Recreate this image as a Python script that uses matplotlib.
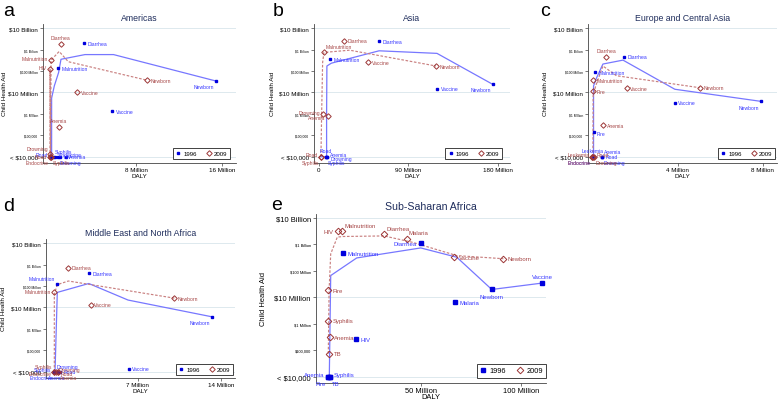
import matplotlib
matplotlib.use('Agg')
import matplotlib.pyplot as plt
from matplotlib.lines import Line2D
import numpy as np

plt.rcParams['font.family'] = ['Liberation Sans', 'DejaVu Sans']

# ---------------- DATA (DALY in millions, aid in US$) ----------------
# a: Americas
AM_CAUSE_96 = ['Diarrhea', 'Malnutrition', 'Newborn', 'Vaccine', 'Road', 'Syphilis', 'Endocrine', 'HIV', 'Anemia', 'Drowning']
AM_DALY_96 = [3.2, 0.77, 15.4, 5.76, 0.05, 0.3, 0.5, 0.9, 1.45, 0.75]
AM_AID_96 = [2.0e9, 1.35e8, 3.4e7, 1.35e6, 1e4, 1e4, 1e4, 1e4, 1e4, 1e4]
AM_CAUSE_09 = ['Diarrhea', 'Malnutrition', 'HIV', 'Newborn', 'Vaccine', 'Anemia', 'Drowning', 'Road', 'Endocrine', 'Syphilis']
AM_DALY_09 = [1.0, 0.1, 0.0, 9.0, 2.5, 0.8, 0.0, 0.02, 0.05, 0.1]
AM_AID_09 = [1.8e9, 3.2e8, 1.2e8, 3.7e7, 1.0e7, 2.4e5, 1.3e4, 1e4, 1e4, 1e4]
AM_FIT96_X = [0.15, 0.15, 0.4, 0.8, 1.02, 3.25, 5.9, 15.4]
AM_FIT96_Y = [1e4, 5.4e6, 2.0e7, 8.5e7, 3.5e8, 5.8e8, 5.8e8, 3.4e7]
AM_FIT09_X = [0.0, 0.0, 0.05, 0.1, 0.85, 1.7, 9.0]
AM_FIT09_Y = [1e4, 1.2e8, 1e4, 3.2e8, 8.1e8, 2.7e8, 3.7e7]

# b: Asia
AS_CAUSE_96 = ['Diarrhea', 'Malnutrition', 'Vaccine', 'Newborn', 'Road', 'Anemia', 'Drowning', 'Syphilis']
AS_DALY_96 = [60.3, 11.1, 119, 175, 7.0, 8.0, 8.5, 7.5]
AS_AID_96 = [2.4e9, 3.6e8, 1.5e7, 2.4e7, 1e4, 1e4, 1e4, 1e4]
AS_CAUSE_09 = ['Diarrhea', 'Malnutrition', 'Vaccine', 'Newborn', 'Drowning', 'Anemia', 'Road', 'Syphilis']
AS_DALY_09 = [25, 4.7, 49.5, 118, 4.4, 9.1, 2.0, 2.0]
AS_AID_09 = [2.6e9, 7.3e8, 2.5e8, 1.7e8, 1.0e6, 8.1e5, 1e4, 1e4]
AS_FIT96_X = [1.7, 7.7, 7.7, 8.0, 12.5, 60.6, 119, 175]
AS_FIT96_Y = [1e4, 1e4, 1e6, 1.7e8, 2.3e8, 8.7e8, 6.6e8, 2.4e7]
AS_FIT09_X = [2.0, 2.7, 3.7, 5.0, 31, 118]
AS_FIT09_Y = [1e4, 1e6, 2.5e8, 7.3e8, 9.3e8, 1.7e8]

# c: Europe and Central Asia
EU_CAUSE_96 = ['Diarrhea', 'Malnutrition', 'Vaccine', 'Newborn', 'Fire', 'Leukemia', 'Anemia', 'Road', 'Endocrine', 'Drowning']
EU_DALY_96 = [1.47, 0.14, 3.87, 7.92, 0.06, 0.04, 0.45, 0.45, 0.03, 0.45]
EU_AID_96 = [4.6e8, 8.5e7, 3.2e6, 3.8e6, 1.45e5, 1e4, 1e4, 1e4, 1e4, 1e4]
EU_CAUSE_09 = ['Diarrhea', 'Malnutrition', 'Fire', 'Vaccine', 'Newborn', 'Anemia', 'Leukemia', 'Road', 'Endocrine', 'Drowning']
EU_DALY_09 = [0.66, 0.03, 0.03, 1.62, 5.04, 0.5, 0.0, 0.05, 0.01, 0.08]
EU_AID_09 = [4.6e8, 3.7e7, 1.1e7, 1.6e7, 1.65e7, 2.9e5, 1e4, 1e4, 1e4, 1e4]
EU_FIT96_X = [0.06, 0.06, 0.19, 0.5, 1.44, 3.87, 7.92]
EU_FIT96_Y = [1e4, 2e7, 4.5e7, 2.1e8, 3.2e8, 1.4e7, 3.8e6]
EU_FIT09_X = [0.03, 0.04, 0.16, 0.5, 1.13, 5.04]
EU_FIT09_Y = [1e4, 6.9e6, 2e7, 1.7e8, 6e7, 1.65e7]

# d: Middle East and North Africa
ME_CAUSE_96 = ['Diarrhea', 'Malnutrition', 'Newborn', 'Vaccine', 'Syphilis', 'Drowning', 'Road', 'Endocrine', 'Anemia']
ME_DALY_96 = [2.9, 0.2, 13.3, 6.25, 0.0, 0.05, 0.45, 0.0, 0.2]
ME_AID_96 = [4e8, 1.2e8, 3.6e6, 1.4e4, 1e4, 1e4, 1e4, 1e4, 1e4]
ME_CAUSE_09 = ['Diarrhea', 'Malnutrition', 'Vaccine', 'Newborn', 'Syphilis', 'Drowning', 'Endocrine', 'Road', 'Anemia']
ME_DALY_09 = [1.18, 0.0, 3.05, 10.1, 0.0, 0.1, 0.0, 0.3, 0.3]
ME_AID_09 = [7e8, 5.3e7, 1.3e7, 2.7e7, 1e4, 1e4, 1e4, 1e4, 1e4]
ME_FIT96_X = [0.06, 0.25, 2.9, 6.2, 13.3]
ME_FIT96_Y = [1e4, 5e7, 1.3e8, 2.2e7, 3.6e6]
ME_FIT09_X = [0.0, 0.0, 0.25, 1.18, 10.1]
ME_FIT09_Y = [1e4, 4.2e7, 1.15e8, 1.7e8, 2.7e7]

# e: Sub-Saharan Africa
SS_CAUSE_96 = ['Malnutrition', 'Diarrhea', 'Malaria', 'Newborn', 'Vaccine', 'HIV', 'Anemia', 'Syphilis', 'Fire', 'TB']
SS_DALY_96 = [11, 50, 67, 85.5, 110.8, 17.7, 3.8, 4.7, 3.5, 4.7]
SS_AID_96 = [4.6e8, 1.1e9, 6.7e6, 2e7, 3.5e7, 2.6e5, 1e4, 1e4, 1e4, 1e4]
SS_CAUSE_09 = ['HIV', 'Malnutrition', 'Diarrhea', 'Malaria', 'Vaccine', 'Newborn', 'Fire', 'Syphilis', 'Anemia', 'TB']
SS_DALY_09 = [8.5, 10.7, 31.7, 43, 66.7, 91.3, 3.8, 3.8, 4.7, 4.2]
SS_AID_09 = [3.1e9, 3.1e9, 2.4e9, 1.6e9, 3.3e8, 2.9e8, 1.9e7, 1.3e6, 3.2e5, 7.6e4]
SS_FIT96_X = [3.0, 4.3, 5.0, 18, 50, 68, 85.5, 110.8]
SS_FIT96_Y = [1e4, 1e4, 6.7e7, 3.1e8, 7.4e8, 3.3e8, 2e7, 3.5e7]
SS_FIT09_X = [3.8, 4.2, 5.0, 8.3, 11.3, 31.7, 46, 68, 91.3]
SS_FIT09_Y = [7.6e4, 1.9e7, 4.4e8, 1.9e9, 2e9, 2.1e9, 1.2e9, 3.8e8, 2.9e8]

Y_TICKS = [1e4, 1e5, 1e6, 1e7, 1e8, 1e9, 1e10]
Y_LABELS = ['< $10,000', '$100,000', '$1 Million', '$10 Million', '$100 Million', '$1 Billion', '$10 Billion']
YEARS = ['1996', '2009']

# ---------------- STYLE ----------------
# label clock positions (Stata style)
AM_CLK_96 = {'Diarrhea': 3, 'Malnutrition': 3, 'Newborn': 7, 'Vaccine': 3, 'Road': 10, 'Syphilis': 1,
             'Endocrine': 2, 'HIV': 3, 'Anemia': 3, 'Drowning': 5}
AM_CLK_09 = {'Diarrhea': 12, 'Malnutrition': 10, 'HIV': 10, 'Newborn': 3, 'Vaccine': 3, 'Anemia': 12,
             'Drowning': 11, 'Road': 9, 'Endocrine': 7, 'Syphilis': 5}
AS_CLK_96 = {'Diarrhea': 3, 'Malnutrition': 3, 'Vaccine': 3, 'Newborn': 7, 'Road': 12, 'Anemia': 2,
             'Drowning': 4, 'Syphilis': 5}
AS_CLK_09 = {'Diarrhea': 3, 'Malnutrition': 1, 'Vaccine': 3, 'Newborn': 3, 'Drowning': 10, 'Anemia': 8,
             'Road': 10, 'Syphilis': 7}
EU_CLK_96 = {'Diarrhea': 3, 'Malnutrition': 3, 'Vaccine': 3, 'Newborn': 7, 'Fire': 4, 'Leukemia': 12,
             'Anemia': 1, 'Road': 3, 'Endocrine': 7, 'Drowning': 5}
EU_CLK_09 = {'Diarrhea': 12, 'Malnutrition': 3, 'Fire': 3, 'Vaccine': 3, 'Newborn': 3, 'Anemia': 3,
             'Leukemia': 10, 'Road': 2, 'Endocrine': 7, 'Drowning': 5}
ME_CLK_96 = {'Diarrhea': 3, 'Malnutrition': 11, 'Newborn': 7, 'Vaccine': 3, 'Syphilis': 10, 'Drowning': 1,
             'Road': 3, 'Endocrine': 7, 'Anemia': 6}
ME_CLK_09 = {'Diarrhea': 3, 'Malnutrition': 9, 'Vaccine': 3, 'Newborn': 3, 'Syphilis': 11, 'Drowning': 2,
             'Endocrine': 8, 'Road': 4, 'Anemia': 5}
SS_CLK_96 = {'Malnutrition': 3, 'Diarrhea': 9, 'Malaria': 3, 'Newborn': 6, 'Vaccine': 12, 'HIV': 3,
             'Anemia': 10, 'Syphilis': 2, 'Fire': 7, 'TB': 5}
SS_CLK_09 = {'HIV': 9, 'Malnutrition': 1, 'Diarrhea': 1, 'Malaria': 1, 'Vaccine': 3, 'Newborn': 3,
             'Fire': 3, 'Syphilis': 3, 'Anemia': 3, 'TB': 3}

BLUE = '#0000dd'
BLUE_TXT = '#3636ff'
BLUE_LINE = '#7777ff'
RED = '#9c3636'
RED_TXT = '#a64646'
RED_LINE = '#c98080'
GRID = '#dde9ee'
TITLE_C = '#1f2d5c'

W, H = 778, 402
fig = plt.figure(figsize=(W / 100, H / 100), dpi=100)


def axes_px(left, top, right, bottom):
    return fig.add_axes([left / W, 1 - bottom / H, (right - left) / W, (bottom - top) / H])


def clock(pos, gap):
    ang = np.deg2rad(90 - 30 * pos)
    dx, dy = gap * np.cos(ang), gap * np.sin(ang)
    if pos in (12, 6):
        ha = 'center'
    elif 1 <= pos <= 5:
        ha = 'left'
    else:
        ha = 'right'
    if pos in (11, 12, 1):
        va = 'bottom'
    elif pos in (5, 6, 7):
        va = 'top'
    else:
        va = 'center'
    return dx, dy, ha, va


def panel(ax, title, c96, x96, y96, k96, c09, x09, y09, k09, f96x, f96y, f09x, f09y,
          xlim, ylim, xticks, xlabels, s, leg_px, ylab_px, w_px, h_px, tpad, xlpad):
    ax.set_yscale('log')
    ax.set_xlim(*xlim)
    ax.set_ylim(*ylim)
    for v in (1e4, 1e7, 1e10):
        ax.axhline(v, color=GRID, lw=0.7, zorder=0)
    ax.plot(f96x, f96y, color=BLUE_LINE, lw=0.9, zorder=2)
    ax.plot(f09x, f09y, color=RED_LINE, lw=0.85, ls=(0, (2.2, 1.4)), zorder=2)
    ax.plot(x96, y96, ls='none', marker='s', ms=2.0 * s, color=BLUE, mec=BLUE, zorder=4)
    ax.plot(x09, y09, ls='none', marker='D', ms=2.8 * s, mfc='none', mec=RED, mew=0.7, zorder=4)
    fs = 3.6 * s
    for name, xv, yv in zip(c96, x96, y96):
        dx, dy, ha, va = clock(k96.get(name, 3), 2.6 * s)
        ax.annotate(name, (xv, yv), xytext=(dx, dy), textcoords='offset points', ha=ha, va=va,
                    fontsize=fs, color=BLUE_TXT, zorder=5, annotation_clip=False)
    for name, xv, yv in zip(c09, x09, y09):
        dx, dy, ha, va = clock(k09.get(name, 3), 2.6 * s)
        ax.annotate(name, (xv, yv), xytext=(dx, dy), textcoords='offset points', ha=ha, va=va,
                    fontsize=fs, color=RED_TXT, zorder=5, annotation_clip=False)
    # axes
    for sp in ('top', 'right'):
        ax.spines[sp].set_visible(False)
    for sp in ('left', 'bottom'):
        ax.spines[sp].set_color('#444444')
        ax.spines[sp].set_linewidth(0.6)
    major = [Y_TICKS[0], Y_TICKS[3], Y_TICKS[6]]
    major_l = [Y_LABELS[0], Y_LABELS[3], Y_LABELS[6]]
    minor = [Y_TICKS[i] for i in (1, 2, 4, 5)]
    minor_l = [Y_LABELS[i] for i in (1, 2, 4, 5)]
    ax.set_yticks(major)
    ax.set_yticklabels(major_l)
    ax.set_yticks(minor, minor=True)
    ax.set_yticklabels(minor_l, minor=True)
    ax.tick_params(axis='y', which='major', labelsize=4.5 * s, length=2.5, width=0.5, pad=1.2, color='#444444')
    ax.tick_params(axis='y', which='minor', labelsize=2.4 * s, length=2.5, width=0.5, pad=1.2, color='#444444')
    ax.set_xticks(xticks)
    ax.set_xticklabels(xlabels)
    ax.xaxis.set_minor_locator(matplotlib.ticker.NullLocator())
    ax.tick_params(axis='x', labelsize=4.5 * s, length=2.5, width=0.5, pad=0.8, color='#444444')
    ax.set_xlabel('DALY', fontsize=4.5 * s, labelpad=xlpad)
    ax.set_ylabel('Child Health Aid', fontsize=4.5 * s)
    ax.yaxis.set_label_coords(ylab_px / w_px, 0.5)
    ax.set_title(title, fontsize=6.3 * s, color=TITLE_C, pad=tpad)
    handles = [Line2D([], [], ls='none', marker='s', ms=2.0 * s, color=BLUE),
               Line2D([], [], ls='none', marker='D', ms=2.8 * s, mfc='none', mec=RED, mew=0.7)]
    leg = ax.legend(handles, YEARS, loc='lower right', ncol=2, fontsize=4.4 * s,
                    bbox_to_anchor=(1 - leg_px[0] / w_px, leg_px[1] / h_px), borderaxespad=0,
                    fancybox=False, edgecolor='#222222', framealpha=1, handlelength=0.8,
                    handletextpad=0.4, columnspacing=1.6, borderpad=0.45)
    leg.get_frame().set_linewidth(0.6)


YL = (10 ** 3.72, 10 ** 10.19)

# a
ax = axes_px(43, 25, 236, 163.7)
panel(ax, 'Americas', AM_CAUSE_96, AM_DALY_96, AM_AID_96, AM_CLK_96,
      AM_CAUSE_09, AM_DALY_09, AM_AID_09, AM_CLK_09,
      AM_FIT96_X, AM_FIT96_Y, AM_FIT09_X, AM_FIT09_Y,
      (-0.65, 17.27), YL, [8, 16], ['8 Million', '16 Million'], 1.0,
      (6, 3.5), -36, 193, 138.7, 3, 0.5)

# b
ax = axes_px(314, 25, 510, 163.7)
panel(ax, 'Asia', AS_CAUSE_96, AS_DALY_96, AS_AID_96, AS_CLK_96,
      AS_CAUSE_09, AS_DALY_09, AS_AID_09, AS_CLK_09,
      AS_FIT96_X, AS_FIT96_Y, AS_FIT09_X, AS_FIT09_Y,
      (-5, 192.6), YL, [0, 90, 180], ['0', '90 Million', '180 Million'], 1.0,
      (7.7, 3.5), -39, 196, 138.7, 3, 0.5)

# c
ax = axes_px(588, 25, 777, 163.7)
panel(ax, 'Europe and Central Asia', EU_CAUSE_96, EU_DALY_96, EU_AID_96, EU_CLK_96,
      EU_CAUSE_09, EU_DALY_09, EU_AID_09, EU_CLK_09,
      EU_FIT96_X, EU_FIT96_Y, EU_FIT09_X, EU_FIT09_Y,
      (-0.2, 8.66), YL, [4, 8], ['4 Million', '8 Million'], 1.0,
      (2, 3.5), -40, 189, 138.7, 3, 0.5)

# d
ax = axes_px(46, 240, 235, 378.7)
panel(ax, 'Middle East and North Africa', ME_CAUSE_96, ME_DALY_96, ME_AID_96, ME_CLK_96,
      ME_CAUSE_09, ME_DALY_09, ME_AID_09, ME_CLK_09,
      ME_FIT96_X, ME_FIT96_Y, ME_FIT09_X, ME_FIT09_Y,
      (-0.7, 15.2), YL, [7, 14], ['7 Million', '14 Million'], 1.0,
      (2, 2.6), -40, 189, 138.7, 3, 0.5)

# e
ax = axes_px(316, 215, 546, 383.5)
panel(ax, 'Sub-Saharan Africa', SS_CAUSE_96, SS_DALY_96, SS_AID_96, SS_CLK_96,
      SS_CAUSE_09, SS_DALY_09, SS_AID_09, SS_CLK_09,
      SS_FIT96_X, SS_FIT96_Y, SS_FIT09_X, SS_FIT09_Y,
      (-2.35, 112.6), (10 ** 3.79, 10 ** 10.15), [50, 100], ['50 Million', '100 Million'], 1.2,
      (0, 5), -49, 230, 168.5, 3.5, -0.5)

for letter, xp, yp in (('a', 3, 15.7), ('b', 273, 15.7), ('c', 540, 15.5), ('d', 3, 211), ('e', 271, 210)):
    fig.text(xp / W, 1 - yp / H, letter, fontsize=14, va='baseline', ha='left', color='black')

fig.savefig('out.png', dpi=100)
